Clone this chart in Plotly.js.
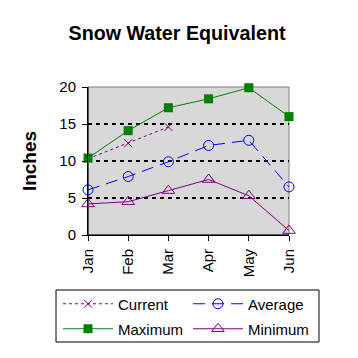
<!DOCTYPE html>
<html><head><meta charset="utf-8">
<script src="https://cdn.plot.ly/plotly-3.0.1.min.js"></script>
<style>html,body{margin:0;padding:0;background:#fff}</style>
</head><body>
<div id="chart" style="width:358px;height:358px"></div>
<script>
const months = ["Jan","Feb","Mar","Apr","May","Jun"];
const currentVals = [10.3, 12.4, 14.6];
const averageVals = [6.1, 7.9, 9.9, 12.1, 12.8, 6.5];
const maximumVals = [10.4, 14.1, 17.2, 18.4, 19.9, 16.0];
const minimumVals = [4.2, 4.5, 6.0, 7.5, 5.3, 0.6];
const yTicks = [0, 5, 10, 15, 20];

const PURPLE = "#800080", BLUE = "#0000ff", GREEN = "#008000";

const traces = [
  {name:"Current", x:months.slice(0,currentVals.length), y:currentVals, mode:"lines+markers",
   line:{color:PURPLE,width:1,dash:"3px,3px"}, marker:{symbol:"x-thin-open",size:8,color:PURPLE,line:{color:PURPLE,width:1}},
   legend:"legend", cliponaxis:false},
  {name:"Maximum", x:months, y:maximumVals, mode:"lines+markers",
   line:{color:GREEN,width:1}, marker:{symbol:"square",size:9,color:GREEN},
   legend:"legend2", cliponaxis:false},
  {name:"Average", x:months, y:averageVals, mode:"lines+markers",
   line:{color:BLUE,width:1,dash:"12px,7px"}, marker:{symbol:"circle-open",size:10,color:BLUE,line:{color:BLUE,width:1}},
   legend:"legend3", cliponaxis:false},
  {name:"Minimum", x:months, y:minimumVals, mode:"lines+markers",
   line:{color:PURPLE,width:1}, marker:{symbol:"triangle-up-open",size:11,color:PURPLE,line:{color:PURPLE,width:1}},
   legend:"legend4", cliponaxis:false}
];

const font = {family:"Liberation Sans, Arial, sans-serif", color:"#000"};
function px(v){ return (v-88)/201; }
function py(v){ return (235-v)/148; }
function leg(xp, yp){
  return {x:px(xp), xanchor:"left", y:py(yp), yanchor:"middle", orientation:"v",
          bgcolor:"rgba(0,0,0,0)", borderwidth:0, font:Object.assign({size:15}, font),
          itemwidth:50, maxheight:200};
}
const layout = {
  width:358, height:358,
  margin:{l:88, r:69, t:87, b:123, pad:0},
  paper_bgcolor:"#fff", plot_bgcolor:"#d8d8d8",
  font:Object.assign({size:15}, font),
  title:{text:"<b>Snow Water Equivalent</b>", x:177/358, xref:"container", xanchor:"center",
         y:1-33/358, yanchor:"middle", font:Object.assign({size:19.7}, font)},
  xaxis:{type:"category", range:[0,5], showgrid:false, zeroline:false, automargin:false,
         showline:true, linecolor:"#000", linewidth:1, ticks:"outside", ticklen:5, tickcolor:"#000",
         tickangle:-90, tickfont:Object.assign({size:15}, font), ticklabelstandoff:2, fixedrange:true},
  yaxis:{range:[0,20], tickvals:yTicks, showgrid:true, gridcolor:"#000", griddash:"4px,4px", gridwidth:2,
         zeroline:false, showline:true, linecolor:"#000", linewidth:1, ticks:"outside", ticklen:5, tickcolor:"#000",
         tickfont:Object.assign({size:15}, font), ticklabelstandoff:3, automargin:false,
         title:{text:"<b>Inches</b>", font:Object.assign({size:19}, font), standoff:17}, fixedrange:true},
  showlegend:true,
  legend:leg(58, 304),
  legend2:leg(58, 329),
  legend3:leg(188, 304),
  legend4:leg(188, 329),
  shapes:[
    {type:"rect", xref:"paper", yref:"paper", x0:0, x1:1, y0:0, y1:1, layer:"between",
     line:{color:"#808080", width:1}, fillcolor:"rgba(0,0,0,0)"},
    {type:"line", xref:"paper", yref:"paper", x0:0, x1:0, y0:0, y1:1, layer:"between",
     line:{color:"#000", width:1}},
    {type:"line", xref:"paper", yref:"paper", x0:0, x1:1, y0:0, y1:0, layer:"between",
     line:{color:"#000", width:1}},
    {type:"rect", xref:"paper", yref:"paper", x0:px(56), x1:px(319), y0:py(342), y1:py(290),
     line:{color:"#000", width:1}, fillcolor:"rgba(0,0,0,0)"}
  ]
};
Plotly.newPlot("chart", traces, layout, {displayModeBar:false, staticPlot:true});
</script>
</body></html>
